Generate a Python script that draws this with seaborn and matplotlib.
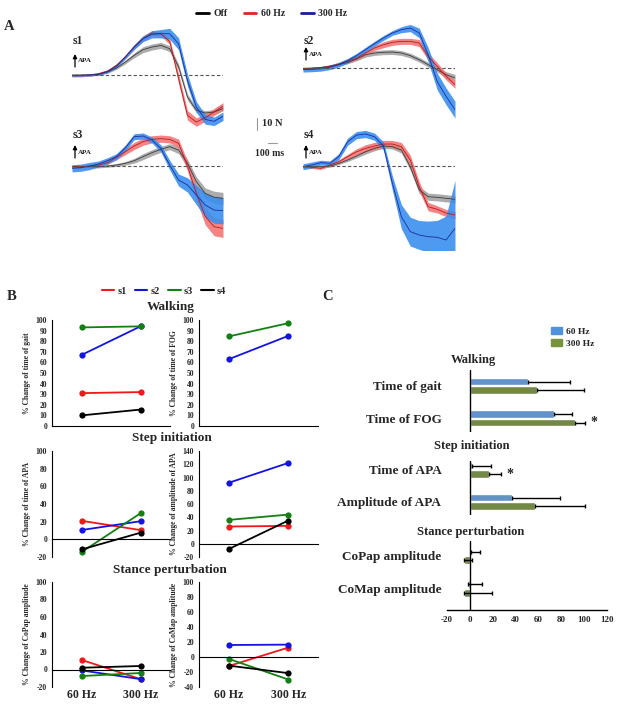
import numpy as np
import pandas as pd
import matplotlib
matplotlib.use("Agg")
import matplotlib.pyplot as plt
from matplotlib.lines import Line2D
from matplotlib.patches import Patch
import seaborn as sns

sns.set_style("white")
plt.rcParams["font.family"] = ["Liberation Serif", "DejaVu Serif"]
plt.rcParams["font.weight"] = "bold"
plt.rcParams["axes.labelweight"] = "bold"
plt.rcParams["axes.unicode_minus"] = False

W, H = 617, 708

# ------------------------------------------------------------------
# Panel A: mean force traces (N) with +/- band, sampled every 100 ms
# ------------------------------------------------------------------
t_ms = [0, 100, 200, 300, 400, 500, 600, 700, 800, 900,
        1000, 1100, 1200, 1300, 1400, 1500, 1600, 1700]

s1_off = [0, 0, 0, 0.6, 2.5, 5.8, 10.8, 16.4, 21.1, 23.3, 24.7, 21.9, 6.7, -18.3, -29.4, -31.7, -30.8, -28.0]
s1_60 = [-0.6, -0.6, 0, 1.1, 3.3, 8.1, 15.0, 23.3, 30.3, 35.0, 34.4, 28.0, -3.0, -33.6, -39.2, -35.6, -30.8, -26.0]
s1_300 = [-0.6, -0.3, 0, 0.6, 2.8, 7.2, 15.0, 23.3, 30.3, 33.9, 34.4, 34.4, 26.0, -4.4, -26.7, -37.0, -38.6, -34.4]
s1_off_sd = [0.8, 0.8, 0.8, 0.8, 1, 1.2, 1.5, 2, 2.5, 2.5, 2.5, 2.5, 2.5, 2.5, 2, 2, 2, 2]
s1_60_sd = [1, 1, 1, 1, 1, 1.2, 1.5, 2, 2, 2, 2, 2.5, 4, 4, 3.5, 3, 3, 3]
s1_300_sd = [0.8, 0.8, 0.8, 0.8, 1, 1.2, 1.5, 2, 2.5, 3, 3.5, 4.5, 5, 5, 4.5, 4, 3.5, 3.5]

s2_off = [-0.6, -0.3, 0.3, 1.4, 2.8, 4.7, 7.5, 11.1, 12.5, 13.1, 13.3, 12.5, 10.3, 6.9, 2.8, -1.4, -5.6, -8.3]
s2_60 = [-0.6, -0.3, 0.3, 1.4, 3.3, 5.6, 8.3, 12.5, 16.7, 19.4, 21.4, 22.2, 22.2, 20.8, 9.7, 1.4, -6.9, -13.9]
s2_300 = [-1.4, -1.1, -0.6, 0.6, 2.8, 6.1, 10.3, 15.3, 20.3, 25.0, 29.2, 31.9, 33.3, 29.2, 11.1, -11.1, -23.6, -34.7]
s2_off_sd = [1, 1, 1, 1, 1, 1.2, 1.5, 2, 2, 2, 2, 2, 2, 2, 2, 2, 2.5, 3]
s2_60_sd = [0.8, 0.8, 0.8, 1, 1, 1.2, 1.5, 2, 2, 2.5, 2.5, 2.5, 2.5, 3, 3, 3, 3, 3]
s2_300_sd = [2, 2, 2, 2, 2, 2, 2, 2, 2, 2, 2, 2.5, 3, 4, 6, 7, 7, 7]

s3_off = [-0.6, -0.6, -0.6, -0.6, 0, 0.8, 2.2, 4.4, 7.8, 11.1, 13.9, 16.1, 13.3, 2.2, -13.0, -22.8, -26.0, -27.0]
s3_60 = [-0.6, -0.6, 0, 0.8, 2.8, 7.2, 11.9, 16.7, 20.3, 22.2, 22.8, 22.2, 18.9, 0, -22.8, -42.0, -50.6, -52.0]
s3_300 = [-1.9, -1.4, 0, 1.7, 4.4, 7.8, 15.0, 24.4, 25.0, 21.7, 14.7, 0.8, -11.7, -15.8, -24.2, -32.5, -36.7, -37.2]
s3_off_sd = [1, 1, 1, 1, 1, 1.2, 1.5, 2, 2.5, 2.5, 2.5, 2.5, 3, 3.5, 4, 4.5, 5, 5]
s3_60_sd = [1, 1, 1, 1, 1.5, 2, 2.5, 3, 3, 3, 3, 3, 3.5, 4, 6, 7, 7.5, 7.5]
s3_300_sd = [3, 3, 3, 2.5, 2.5, 2.5, 2.5, 2.5, 2.5, 2.5, 3, 4, 5, 6, 8, 10, 11, 11]

s4_off = [-0.6, -0.6, -0.6, 0, 2.2, 5.0, 8.3, 11.9, 14.7, 16.7, 16.1, 13.3, -0.6, -20.0, -25.6, -26.1, -26.9, -27.8]
s4_60 = [-0.6, -1.1, -1.9, 0.8, 3.6, 7.8, 11.9, 14.7, 16.7, 18.3, 18.3, 16.1, 5.0, -17.2, -33.9, -36.1, -39.2, -40.8]
s4_300 = [-0.6, 0.8, 2.8, 2.2, 7.8, 20.3, 25.8, 26.7, 24.4, 16.7, -14.4, -42.2, -54.7, -57.5, -58.9, -59.4, -61.7, -51.9]
s4_off_sd = [1, 1, 1, 1, 1, 1.2, 1.5, 2, 2, 2, 2, 2.5, 3, 3, 3, 3, 3, 3]
s4_60_sd = [1, 1, 1, 1, 1.5, 2, 2.5, 3, 3, 3, 3, 3.5, 4, 4, 3.5, 3, 3, 3]
s4_300_sd = [2.5, 2.5, 2, 2, 2.5, 3, 3, 3, 3, 3.5, 6, 10, 12, 12, 13, 14, 20, 40]

# ------------------------------------------------------------------
# Panel B: % change per subject, 60 Hz -> 300 Hz
# ------------------------------------------------------------------
freqs = ["60 Hz", "300 Hz"]
subjects = ["s1", "s2", "s3", "s4"]
gait = {"s1": [31, 32], "s2": [67, 94], "s3": [93, 94], "s4": [10, 15.5]}
fog = {"s2": [63, 85], "s3": [84.5, 97]}
apa_time = {"s1": [21, 10.5], "s2": [10.5, 20.5], "s3": [-14.5, 29.5], "s4": [-11.5, 7.5]}
apa_amp = {"s1": [26, 27], "s2": [92, 122], "s3": [36, 44], "s4": [-8, 35]}
copap = {"s1": [11, -11], "s2": [-1, -11], "s3": [-7.5, -4], "s4": [2, 4]}
comap = {"s1": [-12, 12.5], "s2": [16, 16.5], "s3": [-2.5, -30], "s4": [-11.5, -21.5]}

# ------------------------------------------------------------------
# Panel C: group mean % change with error bars
# ------------------------------------------------------------------
c_measures = ["Time of gait", "Time of FOG", "Time of APA",
              "Amplitude of APA", "CoPap amplitude", "CoMap amplitude"]
c_60 = [51, 74, 1.7, 36.6, 0.6, -2]
c_300 = [59, 91.6, 16.9, 57, -5, -5]
c_60_err = [37, 15.5, 17.2, 42.2, 8.4, 13]
c_300_err = [41, 9, 10, 44, 7.3, 24]
c_300_sig = [False, True, True, False, False, False]
c_groups = ["Walking", "Step initiation", "Stance perturbation"]


fig = plt.figure(figsize=(W / 100, H / 100), dpi=100)


def fx(x):
    return x / W


def fy(y):
    return 1 - y / H


def px_axes(x0, y0, x1, y1):
    return fig.add_axes([fx(x0), fy(y1), (x1 - x0) / W, (y1 - y0) / H])


# ---------------- panel A ----------------
band_col = {"off": "#a3a3a3", "60": "#f47676", "300": "#3b8fef"}
line_col = {"off": "#3c3c3c", "60": "#b41e1e", "300": "#1c2c9c"}
px_per_n = 1.2

a_panels = [
    ("s1", (72, 28, 223, 128), 75,
     {"off": (s1_off, s1_off_sd), "60": (s1_60, s1_60_sd), "300": (s1_300, s1_300_sd)}),
    ("s2", (303, 22, 455, 128), 68,
     {"off": (s2_off, s2_off_sd), "60": (s2_60, s2_60_sd), "300": (s2_300, s2_300_sd)}),
    ("s3", (72, 128, 223, 238), 166,
     {"off": (s3_off, s3_off_sd), "60": (s3_60, s3_60_sd), "300": (s3_300, s3_300_sd)}),
    ("s4", (303, 128, 455, 250), 166,
     {"off": (s4_off, s4_off_sd), "60": (s4_60, s4_60_sd), "300": (s4_300, s4_300_sd)}),
]

for name, rect, base_y, traces in a_panels:
    ax = px_axes(*rect)
    for cond in ["off", "60", "300"]:
        m = np.array(traces[cond][0])
        sd = np.array(traces[cond][1])
        ax.fill_between(t_ms, m - sd, m + sd, color=band_col[cond], alpha=0.9, lw=0)
        sns.lineplot(x=t_ms, y=m, ax=ax, color=line_col[cond], lw=0.6)
    ax.axhline(0, color="#555555", lw=0.8, ls=(0, (3, 2)), zorder=5)
    ax.set_xlim(0, 1700)
    ax.set_ylim((base_y - rect[3]) / px_per_n, (base_y - rect[1]) / px_per_n)
    ax.axis("off")

    lx = rect[0] + 1
    ty = 41 if name in ("s1", "s2") else 135
    fig.text(fx(lx), fy(ty), name, fontsize=8.5, ha="left", va="center")
    ay0 = base_y - 8
    ax.annotate("", xy=(fx(lx + 2), fy(ay0 - 13)), xytext=(fx(lx + 2), fy(ay0)),
                xycoords="figure fraction", textcoords="figure fraction",
                arrowprops=dict(arrowstyle="-|>", color="black", lw=0.9,
                                mutation_scale=6, shrinkA=0, shrinkB=0))
    fig.text(fx(lx + 5), fy(ay0 - 6), "APA", fontsize=5, ha="left", va="center")

fig.text(fx(9), fy(26), "A", fontsize=10.5, ha="center", va="center")

# scale bars
fig.add_artist(Line2D([fx(257), fx(257)], [fy(118), fy(130)], color="#999999", lw=0.8))
fig.text(fx(262), fy(124), "10 N", fontsize=7.5, ha="left", va="center")
fig.add_artist(Line2D([fx(268), fx(277)], [fy(143), fy(143)], color="#999999", lw=0.8))
fig.text(fx(270), fy(154), "100 ms", fontsize=7, ha="center", va="center")

fig.legend(handles=[Line2D([], [], color="black", lw=2),
                    Line2D([], [], color="#e02424", lw=2),
                    Line2D([], [], color="#1a1aa6", lw=2)],
           labels=["Off", "60 Hz", "300 Hz"], loc="center",
           bbox_to_anchor=(fx(272), fy(14)), ncol=3, frameon=False,
           handlelength=1.3, handletextpad=0.5, columnspacing=1.6,
           prop={"size": 7, "weight": "bold"})

# ---------------- panel B ----------------
subj_col = {"s1": "#f01818", "s2": "#1414e0", "s3": "#138013", "s4": "#000000"}

b_panels = [
    (gait, (52, 320, 170, 426), (0, 100), 10, "% Change of time of gait", False),
    (fog, (199, 320, 318, 426), (0, 100), 10, "% Change of time of FOG", False),
    (apa_time, (52, 451, 170, 557), (-20, 100), 20, "% Change of time of APA", False),
    (apa_amp, (199, 451, 318, 557), (-20, 140), 20, "% Change of amplitude of APA", False),
    (copap, (52, 582, 170, 687), (-20, 100), 20, "% Change of CoPap amplitude", True),
    (comap, (199, 582, 318, 687), (-40, 100), 20, "% Change of CoMap amplitude", True),
]

for values, rect, ylim, ystep, ylabel, bottom_row in b_panels:
    ax = px_axes(*rect)
    rows = []
    for s in subjects:
        if s in values:
            for i, f in enumerate(freqs):
                rows.append({"subject": s, "pos": i, "value": values[s][i]})
    df = pd.DataFrame(rows)
    sns.lineplot(data=df, x="pos", y="value", hue="subject", palette=subj_col,
                 marker="o", markersize=4.5, markeredgewidth=0, lw=1.3,
                 legend=False, ax=ax)
    ax.set_xlim(-0.5, 1.5)
    ax.set_ylim(*ylim)
    ax.set_yticks(np.arange(ylim[0], ylim[1] + 1, ystep))
    ax.set_xticks([-0.5, 0.5, 1.5])
    ax.set_xticklabels([])
    ax.spines["top"].set_visible(False)
    ax.spines["right"].set_visible(False)
    ax.spines["bottom"].set_position(("data", 0))
    for sp in ("left", "bottom"):
        ax.spines[sp].set_color("black")
        ax.spines[sp].set_linewidth(0.8)
    ax.tick_params(axis="both", direction="out", length=2, width=0.6, labelsize=5.5, pad=1.5)
    ax.set_xlabel("")
    ax.set_ylabel(ylabel, fontsize=5.5)
    ax.yaxis.set_label_coords(-0.18, 0.5)
    if bottom_row:
        for i, f in enumerate(freqs):
            ax.text(i, -0.075, f, transform=ax.get_xaxis_transform(),
                    ha="center", va="center", fontsize=8.5)

fig.text(fx(12), fy(297), "B", fontsize=10.5, ha="center", va="center")
fig.text(fx(171), fy(307), "Walking", fontsize=9.5, ha="center", va="center")
fig.text(fx(172), fy(438), "Step initiation", fontsize=9.5, ha="center", va="center")
fig.text(fx(170), fy(570), "Stance perturbation", fontsize=9.5, ha="center", va="center")
fig.legend(handles=[Line2D([], [], color=subj_col[s], lw=1.5) for s in subjects],
           labels=subjects, loc="center", bbox_to_anchor=(fx(164), fy(291)), ncol=4,
           frameon=False, handlelength=1.2, handletextpad=0.3, columnspacing=0.8,
           prop={"size": 7.5, "weight": "bold"})

# ---------------- panel C ----------------
bar_col = {"60 Hz": "#5090dc", "300 Hz": "#77933c"}
c_rects = [(447, 370, 607, 432), (447, 461, 607, 515), (447, 541, 607, 610)]
c_ylims = [(1.42, -0.49), (1.42, -0.28), (1.66, -0.46)]
c_heads = [(473, 360), (472, 446), (471, 532)]

for g, (rect, ylim, head) in enumerate(zip(c_rects, c_ylims, c_heads)):
    idx = [2 * g, 2 * g + 1]
    names = [c_measures[i] for i in idx]
    df = pd.DataFrame({
        "measure": names * 2,
        "freq": ["60 Hz"] * 2 + ["300 Hz"] * 2,
        "value": [c_60[i] for i in idx] + [c_300[i] for i in idx],
    })
    ax = px_axes(*rect)
    sns.barplot(data=df, x="value", y="measure", hue="freq", order=names,
                hue_order=freqs, palette=bar_col, orient="h", width=0.52, gap=0.1,
                errorbar=None, legend=False, ax=ax)
    errs = [[c_60_err[i] for i in idx], [c_300_err[i] for i in idx]]
    bar_conts = list(ax.containers)
    for k, cont in enumerate(bar_conts):
        for j, bar in enumerate(cont.patches):
            yc = bar.get_y() + bar.get_height() / 2
            xe = bar.get_x() + bar.get_width()
            ax.errorbar(xe, yc, xerr=[[0], [errs[k][j]]], fmt="none", ecolor="black",
                        elinewidth=1, capsize=1.5, capthick=1)
            if k == 1 and c_300_sig[idx[j]]:
                ax.text(xe + errs[k][j] + 5, yc, "*", ha="left", va="center", fontsize=10)
    ax.axvline(0, color="black", lw=1)
    ax.set_xlim(-20, 120)
    ax.set_ylim(*ylim)
    ax.set_xlabel("")
    ax.set_ylabel("")
    ax.spines["top"].set_visible(False)
    ax.spines["right"].set_visible(False)
    ax.spines["left"].set_visible(False)
    ax.tick_params(axis="y", length=0, labelsize=9.5, pad=4)
    if g < 2:
        ax.spines["bottom"].set_visible(False)
        ax.set_xticks([])
    else:
        ax.spines["bottom"].set_color("black")
        ax.spines["bottom"].set_linewidth(1)
        ax.set_xticks(np.arange(-20, 121, 20))
        ax.tick_params(axis="x", direction="inout", length=4, width=0.8,
                       labelsize=6.5, pad=2)
    fig.text(fx(head[0]), fy(head[1]), c_groups[g], fontsize=9, ha="center", va="center")

fig.text(fx(328), fy(297), "C", fontsize=10.5, ha="center", va="center")
fig.legend(handles=[Patch(color=bar_col[f]) for f in freqs], labels=freqs,
           loc="upper left", bbox_to_anchor=(fx(542), fy(318)), frameon=False,
           handlelength=1.2, handleheight=0.9, labelspacing=0.3, handletextpad=0.4,
           prop={"size": 6.8, "weight": "bold"})

fig.savefig("out.png", dpi=100)
